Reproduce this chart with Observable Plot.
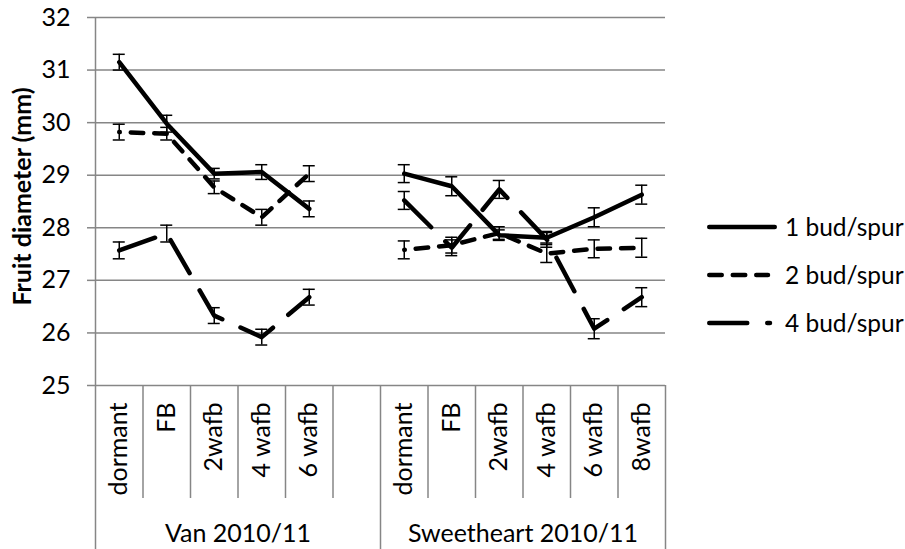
<!DOCTYPE html>
<html><head><meta charset="utf-8">
<script src="https://cdn.jsdelivr.net/npm/d3@7"></script>
<script src="https://cdn.jsdelivr.net/npm/@observablehq/plot@0.6"></script>
<style>
body{margin:0;background:#fff;}
#chart{position:relative;width:905px;height:549px;font-family:Lato,"Open Sans",sans-serif;color:#000;}
#legend{position:absolute;left:707px;top:0;width:198px;height:549px;}
.row{position:absolute;left:0;display:flex;align-items:center;white-space:nowrap;font-size:24.5px;line-height:28px;}
.row svg{display:block;}
</style></head><body><div id="chart"><div id="legend"></div></div>
<script>
// ---- data ----
const groups = ["Van 2010/11", "Sweetheart 2010/11"];
const vanStages = ["dormant", "FB", "2wafb", "4 wafb", "6 wafb"];
const sweetStages = ["dormant", "FB", "2wafb", "4 wafb", "6 wafb", "8wafb"];
const seriesNames = ["1 bud/spur", "2 bud/spur", "4 bud/spur"];
const yTicks = [25, 26, 27, 28, 29, 30, 31, 32];

const bud1Van = [31.15, 29.98, 29.03, 29.06, 28.36];
const bud1Sweet = [29.03, 28.79, 27.86, 27.81, 28.20, 28.63];
const bud2Van = [29.82, 29.79, 28.77, 28.20, 29.03];
const bud2Sweet = [27.58, 27.67, 27.90, 27.51, 27.60, 27.62];
const bud4Van = [27.57, 27.89, 26.33, 25.92, 26.68];
const bud4Sweet = [28.52, 27.62, 28.73, 27.78, 26.08, 26.68];

const err1Van = [0.15, 0.16, 0.10, 0.14, 0.15];
const err1Sweet = [0.17, 0.18, 0.10, 0.10, 0.18, 0.18];
const err2Van = [0.15, 0.12, 0.12, 0.15, 0.15];
const err2Sweet = [0.17, 0.15, 0.12, 0.17, 0.17, 0.18];
const err4Van = [0.16, 0.16, 0.15, 0.15, 0.15];
const err4Sweet = [0.17, 0.15, 0.17, 0.15, 0.19, 0.18];

// ---- build table ----
const nSlots = vanStages.length + 1 + sweetStages.length; // one blank slot between groups
const sweetStart = vanStages.length + 1;
const valueSets = [
  [bud1Van, bud1Sweet, err1Van, err1Sweet],
  [bud2Van, bud2Sweet, err2Van, err2Sweet],
  [bud4Van, bud4Sweet, err4Van, err4Sweet]
];
const rows = [];
valueSets.forEach(([van, sweet, eVan, eSweet], s) => {
  van.forEach((v, i) => rows.push({series: seriesNames[s], group: groups[0], slot: i + 0.5, v, e: eVan[i]}));
  sweet.forEach((v, i) => rows.push({series: seriesNames[s], group: groups[1], slot: sweetStart + i + 0.5, v, e: eSweet[i]}));
});
const catLabels = [
  ...vanStages.map((t, i) => ({t, slot: i + 0.5})),
  ...sweetStages.map((t, i) => ({t, slot: sweetStart + i + 0.5}))
];
const groupLabels = [
  {t: groups[0], slot: sweetStart / 2},
  {t: groups[1], slot: (sweetStart + nSlots) / 2}
];
const longSeps = [0, sweetStart, nSlots];
const shortSeps = d3.range(1, nSlots).filter(b => !longSeps.includes(b));

const styles = {
  "1 bud/spur": {dash: null, offset: 0, legendOffset: 0},
  "2 bud/spur": {dash: "12.5,11", offset: 12, legendOffset: 0},
  "4 bud/spur": {dash: "38,20", offset: 0, legendOffset: 0}
};
const LW = 4.5;
const grid = "#868686";
const FS = 25;

const lineMarks = seriesNames.map(name => Plot.line(rows.filter(d => d.series === name), {
  x: "slot", y: "v", z: "group", stroke: "#000", strokeWidth: LW,
  strokeDasharray: styles[name].dash, strokeDashoffset: styles[name].offset,
  strokeLinecap: "round", strokeLinejoin: "round"
}));

const chart = Plot.plot({
  width: 905, height: 549,
  marginLeft: 95, marginRight: 240, marginTop: 17, marginBottom: 164,
  style: {fontFamily: "Lato, 'Open Sans', sans-serif", fontSize: FS + "px", color: "#000", background: "#fff"},
  x: {type: "linear", domain: [0, nSlots], axis: null},
  y: {domain: [25, 32], axis: null},
  marks: [
    Plot.ruleY(yTicks, {stroke: grid, strokeWidth: 1.5}),
    Plot.ruleX([0], {stroke: grid, strokeWidth: 1.5}),
    Plot.ruleX(shortSeps, {y1: 25, y2: 25, insetBottom: -113, stroke: grid, strokeWidth: 1.5}),
    Plot.ruleX(longSeps, {y1: 25, y2: 25, insetBottom: -164, stroke: grid, strokeWidth: 1.5}),
    Plot.ruleY(yTicks, {x1: 0, x2: 0, insetLeft: -8, stroke: grid, strokeWidth: 1.5}),
    Plot.text(yTicks, {x: 0, y: d => d, text: d => String(d), textAnchor: "end", dx: -25, fontSize: FS, fill: "#000"}),
    Plot.text(["Fruit diameter (mm)"], {frameAnchor: "left", textAnchor: "middle", rotate: -90, dx: -73, dy: -5, fontWeight: "bold", fontSize: FS, fill: "#000"}),
    Plot.text(catLabels, {x: "slot", y: () => 25, text: "t", rotate: -90, textAnchor: "end", dy: 17, fontSize: FS, fill: "#000"}),
    Plot.text(groupLabels, {x: "slot", y: () => 25, text: "t", dy: 148, fontSize: FS, fill: "#000"}),
    // error bars
    Plot.ruleX(rows, {x: "slot", y1: d => d.v - d.e, y2: d => d.v + d.e, stroke: "#000", strokeWidth: 1.5}),
    Plot.ruleY(rows, {y: d => d.v + d.e, x1: "slot", x2: "slot", insetLeft: -6, insetRight: -6, stroke: "#000", strokeWidth: 1.5}),
    Plot.ruleY(rows, {y: d => d.v - d.e, x1: "slot", x2: "slot", insetLeft: -6, insetRight: -6, stroke: "#000", strokeWidth: 1.5}),
    ...lineMarks
  ]
});
document.getElementById("chart").prepend(chart);

// legend
const legend = document.getElementById("legend");
const legendY = [227, 275, 323];
seriesNames.forEach((name, i) => {
  const row = document.createElement("div");
  row.className = "row";
  row.style.top = (legendY[i] - 14) + "px";
  const svg = d3.create("svg").attr("width", 78).attr("height", 28);
  const len = i === 0 ? 67.75 : i === 1 ? 61 : 63;
  svg.append("line").attr("x1", 2.25).attr("x2", len).attr("y1", 14).attr("y2", 14)
    .attr("stroke", "#000").attr("stroke-width", LW).attr("stroke-linecap", "round")
    .attr("stroke-dasharray", styles[name].dash).attr("stroke-dashoffset", styles[name].legendOffset);
  row.appendChild(svg.node());
  const span = document.createElement("span");
  span.textContent = name;
  row.appendChild(span);
  legend.appendChild(row);
});
</script>
</body></html>
